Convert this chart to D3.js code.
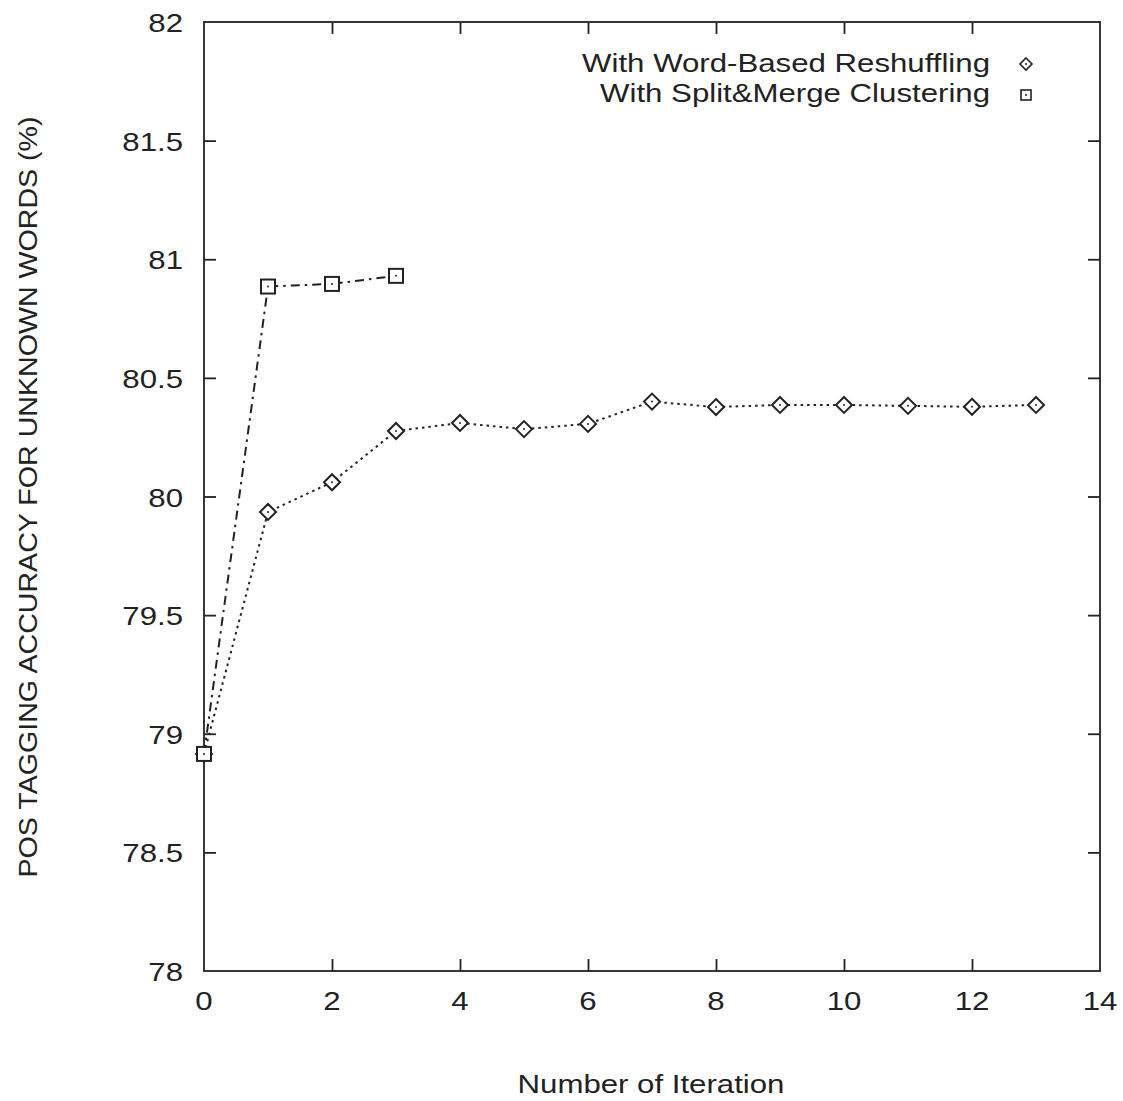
<!DOCTYPE html>
<html>
<head>
<meta charset="utf-8">
<script src="https://cdnjs.cloudflare.com/ajax/libs/d3/7.8.5/d3.min.js"></script>
<style>
  html, body { margin: 0; padding: 0; background: #fff; }
  svg text { font-family: "Liberation Sans", Arial, Helvetica, sans-serif; fill: #222; }
</style>
</head>
<body>
<svg id="chart" width="1123" height="1101"></svg>
<script>
// Iterations and accuracy for unknown words (%)
const iterWord = [0, 1, 2, 3, 4, 5, 6, 7, 8, 9, 10, 11, 12, 13];
const accWord = [78.915, 79.935, 80.06, 80.276, 80.31, 80.284, 80.306, 80.40, 80.377, 80.386, 80.386, 80.382, 80.378, 80.386];
const iterSplit = [0, 1, 2, 3];
const accSplit = [78.915, 80.885, 80.896, 80.93];

const xTicks = [0, 2, 4, 6, 8, 10, 12, 14];
const yTicks = [78, 78.5, 79, 79.5, 80, 80.5, 81, 81.5, 82];
const seriesNames = ["With Word-Based Reshuffling", "With Split&Merge Clustering"];

const svg = d3.select("#chart");
const plotL = 204, plotR = 1100, plotT = 22, plotB = 971;

const x = d3.scaleLinear().domain([0, 14]).range([plotL, plotR]);
const y = d3.scaleLinear().domain([78, 82]).range([plotB, plotT]);
const tickLen = 12;
const ink = "#222";
const fontSize = 26;
const stretch = 1.2; // wide sans lettering

// text drawn with a horizontal stretch around its anchor point
function label(parent, tx, ty, str, anchor, rotate, sx) {
  return parent.append("text")
    .attr("transform", `translate(${tx},${ty})${rotate ? " rotate(" + rotate + ")" : ""} scale(${sx || stretch},1)`)
    .attr("text-anchor", anchor)
    .attr("font-size", fontSize)
    .attr("fill", ink)
    .text(str);
}

// frame
svg.append("rect")
  .attr("x", plotL).attr("y", plotT)
  .attr("width", plotR - plotL).attr("height", plotB - plotT)
  .attr("fill", "none").attr("stroke", ink).attr("stroke-width", 1.8);

// inward ticks on all four sides
const xAxis = svg.append("g").attr("transform", `translate(0,${plotB})`)
  .call(d3.axisBottom(x).tickValues(xTicks).tickSize(-tickLen).tickFormat(""));
const yAxis = svg.append("g").attr("transform", `translate(${plotL},0)`)
  .call(d3.axisLeft(y).tickValues(yTicks).tickSize(-tickLen).tickFormat(""));
const xTop = svg.append("g").attr("transform", `translate(0,${plotT})`)
  .call(d3.axisTop(x).tickValues(xTicks).tickSize(-tickLen).tickFormat(""));
const yRight = svg.append("g").attr("transform", `translate(${plotR},0)`)
  .call(d3.axisRight(y).tickValues(yTicks).tickSize(-tickLen).tickFormat(""));

[xAxis, yAxis, xTop, yRight].forEach(g => {
  g.select(".domain").remove();
  g.selectAll(".tick text").remove();
  g.selectAll(".tick line").attr("stroke", ink).attr("stroke-width", 1.8);
});
// end ticks sit on the frame corners
[xAxis, xTop].forEach(g => g.selectAll(".tick").filter(d => d === 0 || d === 14).select("line").remove());
[yAxis, yRight].forEach(g => g.selectAll(".tick").filter(d => d === 78 || d === 82).select("line").remove());

// tick labels
const tickLabels = svg.append("g");
xTicks.forEach(v => label(tickLabels, x(v), plotB + 39, d3.format("d")(v), "middle"));
yTicks.forEach(v => label(tickLabels, plotL - 21, y(v) + 10, String(v), "end"));

// axis titles
label(svg, 651, 1093, "Number of Iteration", "middle");
label(svg, 37, 497, "POS TAGGING ACCURACY FOR UNKNOWN WORDS (%)", "middle", -90, 1.1);

const wordPts = iterWord.map((d, i) => [d, accWord[i]]);
const splitPts = iterSplit.map((d, i) => [d, accSplit[i]]);
const line = d3.line().x(d => x(d[0])).y(d => y(d[1]));

svg.append("path").datum(wordPts)
  .attr("d", line).attr("fill", "none")
  .attr("stroke", ink).attr("stroke-width", 2)
  .attr("stroke-dasharray", "2.5,4");
svg.append("path").datum(splitPts)
  .attr("d", line).attr("fill", "none")
  .attr("stroke", ink).attr("stroke-width", 2)
  .attr("stroke-dasharray", "9,5,2.5,5");

// marker drawing helpers
function diamond(g, cx, cy, r, w) {
  g.append("path")
    .attr("d", `M${cx},${cy - r}L${cx + r},${cy}L${cx},${cy + r}L${cx - r},${cy}Z`)
    .attr("fill", "#fff").attr("stroke", ink).attr("stroke-width", w);
  g.append("circle").attr("cx", cx).attr("cy", cy).attr("r", 1).attr("fill", ink);
}
function square(g, cx, cy, r, w) {
  g.append("rect")
    .attr("x", cx - r).attr("y", cy - r).attr("width", 2 * r).attr("height", 2 * r)
    .attr("fill", "#fff").attr("stroke", ink).attr("stroke-width", w);
  g.append("circle").attr("cx", cx).attr("cy", cy).attr("r", 1).attr("fill", ink);
}

const marks = svg.append("g");
wordPts.forEach(d => diamond(marks, x(d[0]), y(d[1]), 8, 2));
splitPts.forEach(d => square(marks, x(d[0]), y(d[1]), 7, 2));

// legend
const legend = svg.append("g");
seriesNames.forEach((name, i) => {
  label(legend, 990, 72 + i * 30, name, "end");
});
diamond(legend, 1026, 64, 6, 1.6);
square(legend, 1026, 95, 5, 1.6);
</script>
</body>
</html>
